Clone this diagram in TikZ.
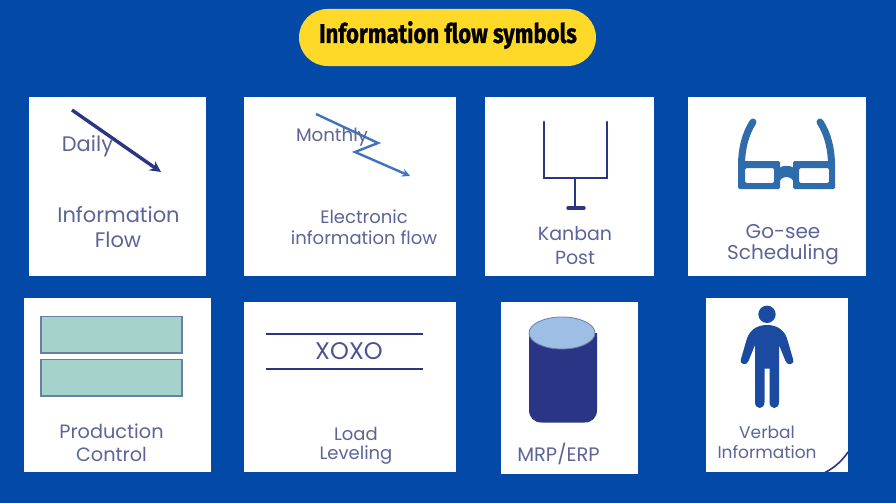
\documentclass[tikz,border=0pt]{standalone}
\usepackage{fontspec}
\setmainfont{Poppins}
\newfontfamily\titlefont[FakeStretch=0.82,BoldFeatures={FakeBold=0.8}]{Fira Sans}
\usetikzlibrary{arrows.meta,shapes.geometric}
\definecolor{bgblue}{HTML}{034AA8}
\definecolor{pill}{HTML}{FFD928}
\definecolor{labelc}{HTML}{5D6497}
\definecolor{navy}{HTML}{2B3585}
\definecolor{midblue}{HTML}{3F73C0}
\definecolor{glass}{HTML}{2F6CAC}
\definecolor{teal}{HTML}{A5D2CB}
\definecolor{tealb}{HTML}{6A7FA6}
\definecolor{lightb}{HTML}{9DBFE6}
\definecolor{person}{HTML}{1B4BA0}
\tikzset{
  card/.style={draw=none,fill=white,inner sep=0pt,anchor=north west},
  lab/.style={text=labelc,inner sep=0pt,anchor=center,align=center},
  navyline/.style={draw=navy,line width=2.8pt},
}
\newcommand{\sz}[1]{\fontsize{#1}{#1}\selectfont}
\begin{document}
\begin{tikzpicture}[x=1pt,y=-1pt]
\useasboundingbox (0,0) rectangle (896,503);
\fill[bgblue] (0,0) rectangle (896,503);
% title
\node[fill=pill,rounded corners=28.5pt,minimum width=297pt,minimum height=57pt,inner sep=0pt] (title) at (447.5,37.5) {};
\node[inner sep=0pt,text=black] (titletext) at (448,35) {\titlefont\bfseries\sz{27}Information flow symbols};
% cards
\node[card,minimum width=177pt,minimum height=179pt] (c1) at (29,97) {};
\node[card,minimum width=212pt,minimum height=179pt] (c2) at (244,97) {};
\node[card,minimum width=169pt,minimum height=179pt] (c3) at (485,97) {};
\node[card,minimum width=178pt,minimum height=179pt] (c4) at (688,97) {};
\node[card,minimum width=187pt,minimum height=174pt] (c5) at (24,298) {};
\node[card,minimum width=212pt,minimum height=170pt] (c6) at (244,302) {};
\node[card,minimum width=137pt,minimum height=172pt] (c7) at (501,302) {};
\node[card,minimum width=142pt,minimum height=174pt] (c8) at (706,298) {};
% card 1
\coordinate (a1) at (72,110);
\coordinate (a2) at (161,172);
\draw[navy,line width=3.4pt,-{Stealth[length=11pt,width=11pt]}] (a1) -- (a2);
\node[lab] (daily) at (87.5,146) {\sz{21}Daily};
\node[lab] (info1) at (118.5,214.5) {\sz{21}Information};
\node[lab] (flow1) at (118,239.5) {\sz{21}Flow};
% card 2
\coordinate (b1) at (316,114);
\coordinate (b2) at (378,143);
\coordinate (b3) at (355,152);
\coordinate (b4) at (410,176);
\draw[midblue,line width=2.4pt,-{Stealth[length=8pt,width=8pt]}] (b1) -- (b2) -- (b3) -- (b4);
\node[lab] (monthly) at (332,137) {\sz{18.2}Monthly};
\node[lab] (elec) at (364,216.5) {\sz{18}Electronic};
\node[lab] (infofl) at (364,237.5) {\sz{18}information flow};
% card 3
\draw[navyline,line cap=round] (544,122) -- (544,178) -- (607,178) -- (607,122);
\draw[navyline] (575,178) -- (575,208);
\draw[navyline,line width=3.4pt,line cap=round] (568,208) -- (584,208);
\node[lab] (kanban) at (575,233.5) {\sz{19}Kanban};
\node[lab] (post) at (575,257.5) {\sz{19}Post};
% card 4
\draw[glass,line width=7pt,line cap=round,line join=round] (753,122) .. controls (745,134) and (741.5,150) .. (741.5,165);
\draw[glass,line width=7pt,line cap=round,line join=round] (820,122) .. controls (828,134) and (831.5,150) .. (831.5,165);
\fill[glass,even odd rule,rounded corners=1.5pt]
  (738,161) rectangle (780,189)
  (745,168) rectangle (774,183)
  (793,161) rectangle (835,189)
  (799,168) rectangle (829,183);
\fill[glass] (779,168) .. controls (783,165) and (790,165) .. (794,168) -- (794,183) .. controls (792,175) and (781,175) .. (779,183) -- cycle;
\node[lab] (gosee) at (783,231.5) {\sz{20}Go-see};
\node[lab] (sched) at (783,254.5) {\sz{20}Scheduling};
% card 5
\draw[fill=teal,draw=tealb,line width=1.3pt] (41,316.5) rectangle (182,353);
\draw[fill=teal,draw=tealb,line width=1.3pt] (41,359.5) rectangle (182,396);
\node[lab] (prod) at (111.5,431) {\sz{19.3}Production};
\node[lab] (ctrl) at (111.5,454) {\sz{19.3}Control};
% card 6
\coordinate (l1) at (266,334);
\coordinate (l2) at (423,334);
\coordinate (l3) at (266,369);
\coordinate (l4) at (423,369);
\draw[navy,line width=2.8pt] (l1) -- (l2);
\draw[navy,line width=2.8pt] (l3) -- (l4);
\node[lab,text=navy!85!white] (xoxo) at (349,351) {\sz{24}XOXO};
\node[lab] (load) at (356,433.5) {\sz{18}Load};
\node[lab] (level) at (356,455.5) {\sz{18}Leveling};
% card 7
\fill[navy] (529,333) -- (597,333) -- (597,410) .. controls (597,417.5) and (592,422.5) .. (584.5,422.5) -- (541.5,422.5) .. controls (534,422.5) and (529,417.5) .. (529,410) -- cycle;
\draw[fill=lightb,draw=tealb,line width=0.8pt] (562,333) ellipse (33pt and 16pt);
\node[lab] (mrp) at (558.5,454) {\sz{19.5}MRP/ERP};
% card 8
\fill[person] (767,314.3) circle (8.7pt);
\fill[person] (767,325) .. controls (756,325) and (749,331) .. (746.5,340)
  -- (741,359) .. controls (739,365) and (747,366) .. (748.5,361)
  -- (755,345) -- (755,402) .. controls (755,410) and (764.5,410) .. (764.5,402)
  -- (764.5,368.5) -- (769.5,368.5) -- (769.5,402) .. controls (769.5,410) and (779,410) .. (779,402)
  -- (779,345) -- (785.5,361) .. controls (787,366) and (795,365) .. (793,359)
  -- (787.5,340) .. controls (785,331) and (778,325) .. (767,325) -- cycle;
\node[lab] (verbal) at (767,432) {\sz{17}Verbal};
\node[lab] (inf8) at (767,452) {\sz{17}Information};
\draw[navy,line width=1.6pt] (825,472.5) .. controls (834,468) and (842,461) .. (848,452);
\end{tikzpicture}
\end{document}
